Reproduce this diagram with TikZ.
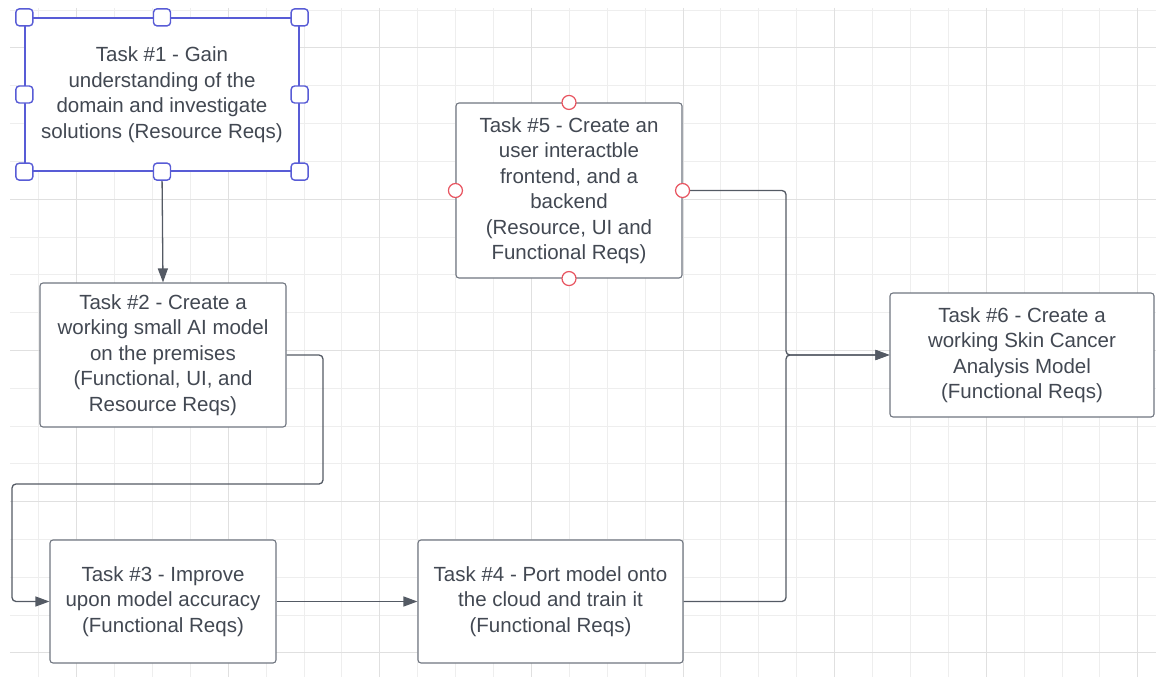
\documentclass[tikz,border=0pt]{standalone}
\usepackage{fontspec}
\setmainfont{Liberation Sans}
\usepackage{xcolor}
\usepackage{tikz}
\usetikzlibrary{arrows.meta}
\definecolor{lucidtext}{RGB}{66,72,82}
\definecolor{lucidline}{RGB}{84,90,100}
\definecolor{lucidborder}{RGB}{112,118,128}
\definecolor{gridminor}{RGB}{238,238,238}
\definecolor{gridmajor}{RGB}{224,224,224}
\definecolor{selblue}{RGB}{88,92,214}
\definecolor{anchorred}{RGB}{232,84,96}
\tikzset{
    task/.style={rectangle, rounded corners=3pt, draw=lucidborder, fill=white, line width=1.1pt, align=center, text=lucidtext, font=\fontsize{20.5}{25.5}\selectfont, inner sep=0pt},
    selected/.style={task, draw=selblue, line width=1.3pt, rounded corners=0pt},
    handle/.style={rectangle, rounded corners=3.5pt, draw=selblue, fill=white, line width=1.4pt, minimum size=17pt, inner sep=0pt},
    anchordot/.style={circle, draw=anchorred, fill=white, line width=1.2pt, minimum size=14pt, inner sep=0pt},
    link/.style={line width=1.3pt, draw=lucidline, rounded corners=4pt, -{Triangle[length=14pt,width=10pt]}}
}

\begin{document}
\begin{tikzpicture}[x=1pt, y=-1pt]
    \useasboundingbox (0,0) rectangle (1156,677);
    % background grid
    \begin{scope}
        \clip (10,8) rectangle (1156,677);
        \foreach \k in {0,...,30} \draw[gridminor, line width=1pt] ({0.8+37.9*\k},8) -- ++(0,669);
        \foreach \k in {0,...,17} \draw[gridminor, line width=1pt] (10,{10.2+37.8*\k}) -- ++(1146,0);
        \foreach \k in {2,6,...,30} \draw[gridmajor, line width=1pt] ({0.8+37.9*\k},8) -- ++(0,669);
        \foreach \k in {1,5,...,17} \draw[gridmajor, line width=1pt] (10,{10.2+37.8*\k}) -- ++(1146,0);
    \end{scope}

    \node (t1) [selected, minimum width=274pt, minimum height=153pt] at (162,94.5) {Task \#1 - Gain\\understanding of the\\domain and investigate\\solutions (Resource Reqs)};
    \node (t2) [task, minimum width=246pt, minimum height=144pt] at (163,355) {Task \#2 - Create a\\working small AI model\\on the premises\\(Functional, UI, and\\Resource Reqs)};
    \node (t3) [task, minimum width=226pt, minimum height=123pt] at (163,601.5) {Task \#3 - Improve\\upon model accuracy\\(Functional Reqs)};
    \node (t4) [task, minimum width=265pt, minimum height=123pt] at (550.5,601.5) {Task \#4 - Port model onto\\the cloud and train it\\(Functional Reqs)};
    \node (t5) [task, minimum width=226pt, minimum height=175pt] at (569,190.5) {Task \#5 - Create an\\user interactble\\frontend, and a\\backend\\(Resource, UI and\\Functional Reqs)};
    \node (t6) [task, minimum width=264pt, minimum height=124pt] at (1022,355) {Task \#6 - Create a\\working Skin Cancer\\Analysis Model\\(Functional Reqs)};

    \coordinate (loopA) at (323,484);
    \coordinate (loopB) at (12,484);
    \coordinate (merge) at (786,355);

    \draw [link] (t1.south) -- (t2.north);
    \draw [link] (t2.east) -| (loopA) -- (loopB) |- (t3.west);
    \draw [link] (t3.east) -- (t4.west);
    \draw [link] (t4.east) -| (merge) -- (t6.west);
    \draw [link] (t5.east) -| (merge) -- (t6.west);

    % selection handles
    \foreach \a/\n in {north west/1, north/2, north east/3, west/4, east/5, south west/6, south/7, south east/8}
        \node (h\n) [handle] at (t1.\a) {};
    \foreach \a in {north, south, west, east}
        \node (d-\a) [anchordot] at (t5.\a) {};
\end{tikzpicture}
\end{document}
